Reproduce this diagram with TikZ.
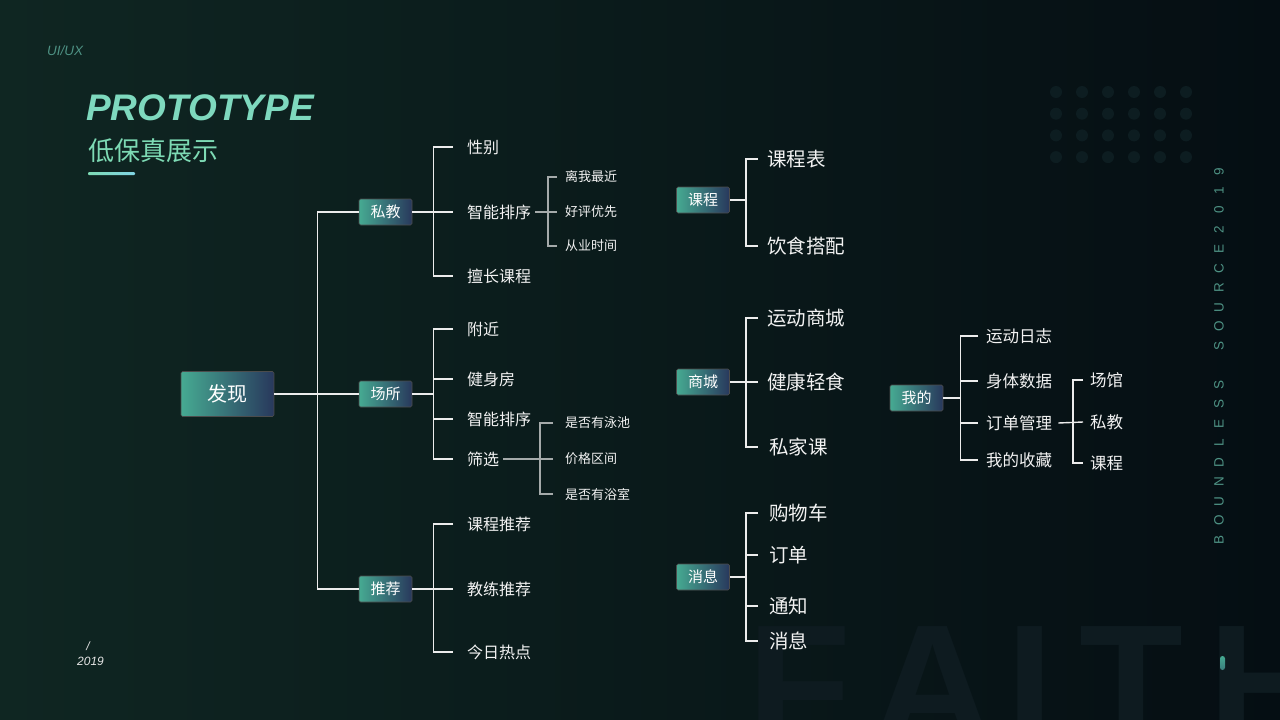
\documentclass[tikz,border=0pt]{standalone}
\usepackage{fontspec}
\setmainfont{Liberation Sans}
\newfontfamily\cjk{Noto Sans CJK SC}

\definecolor{bgleft}{RGB}{15,38,34}
\definecolor{bgright}{RGB}{5,14,19}
\definecolor{boxteal}{RGB}{70,170,146}
\definecolor{boxnavy}{RGB}{40,56,92}
\definecolor{mint}{RGB}{125,218,180}
\definecolor{sky}{RGB}{128,212,228}
\definecolor{dotgray}{RGB}{13,29,33}
\definecolor{faintgray}{RGB}{14,27,32}
\definecolor{sidetext}{RGB}{78,146,132}
\definecolor{linewhite}{RGB}{236,236,236}
\definecolor{subgray}{RGB}{165,170,170}
\definecolor{leaftext}{RGB}{242,242,242}

\tikzset{
  box/.style={left color=boxteal, right color=boxnavy, draw=black!70, line width=0.6pt,
    rounded corners=1.5pt, text=white, font=\cjk\fontsize{15}{15}\selectfont,
    minimum width=53pt, minimum height=26pt, inner sep=0pt},
  rootbox/.style={box, minimum width=93pt, minimum height=45pt, font=\cjk\fontsize{20}{20}\selectfont},
  leaf/.style={anchor=west, inner sep=0pt, text=leaftext, font=\cjk\fontsize{16}{16}\selectfont},
  smallleaf/.style={leaf, font=\cjk\fontsize{13}{13}\selectfont},
  bigleaf/.style={leaf, font=\cjk\fontsize{19.5}{19.5}\selectfont},
  branch/.style={draw=linewhite, line width=1.4pt},
  subbranch/.style={draw=subgray, line width=1.2pt},
}

\begin{document}
\begin{tikzpicture}[x=1pt,y=-1pt]

    % Canvas
    \useasboundingbox (0,0) rectangle (1280,720);
    \clip (0,0) rectangle (1280,720);
    \shade[left color=bgleft, right color=bgright] (0,0) rectangle (1280,720);

    % Dot grid
    \foreach \col in {0,...,5}
      \foreach \row in {0,...,3}
        \fill[dotgray] (1056+26*\col, 92+21.7*\row) circle (6);

    % Watermark
    \foreach \ch/\px in {F/747, A/871, I/1006, T/1079, H/1208}
      \node[anchor=base west, inner sep=0pt, text=faintgray,
        font=\fontsize{170}{170}\selectfont\bfseries] at (\px,743) {\ch};

    % Heading
    \node[anchor=west, inner sep=0pt, text=sidetext, font=\fontsize{13.5}{13.5}\selectfont\itshape] (uiux) at (47,51) {UI/UX};
    \node[anchor=west, inner sep=0pt, text=mint!80!sky, font=\fontsize{37}{37}\selectfont\bfseries\itshape] (proto) at (86,108) {PROTOTYPE};
    \node[anchor=west, inner sep=0pt, text=mint, font=\cjk\fontsize{26}{26}\selectfont] (subtitle) at (88,151) {低保真展示};
    \shade[left color=mint, right color=sky, rounded corners=1pt] (88,172) rectangle (135,175);

    % Year
    \node[inner sep=0pt, text=white!80!gray, font=\fontsize{12}{12}\selectfont\itshape] (slash) at (88,646) {/};
    \node[anchor=west, inner sep=0pt, text=white!80!gray, font=\fontsize{12}{12}\selectfont\itshape] (year) at (77,661) {2019};

    % Side caption
    \foreach \ch/\i in {B/0,O/1,U/2,N/3,D/4,L/5,E/6,S/7,S/8,S/10,O/11,U/12,R/13,C/14,E/15,2/16,0/17,1/18,9/19}
      \node[rotate=90, inner sep=0pt, text=sidetext, font=\fontsize{13.5}{13.5}\selectfont] at (1219,540-19.4*\i) {\ch};
    \shade[top color=boxteal, bottom color=boxteal!60!boxnavy, rounded corners=2.5pt] (1220,656) rectangle (1225,670);

    %% Tree
    % Level one
    \node[rootbox] (faxian) at (227.5,394) {发现};
    \node[box] (sijiao) at (385.5,212) {私教};
    \node[box] (changsuo) at (385.5,394) {场所};
    \node[box] (tuijian) at (385.5,589) {推荐};

    \coordinate (roottrunk) at ([xshift=43pt]faxian.east);
    \draw[branch] (faxian.east) -- (changsuo.west);
    \draw[branch] (sijiao.west) -| (roottrunk) |- (tuijian.west);

    % Private coach
    \node[leaf] (xingbie) at (467,147) {性别};
    \node[leaf] (sjpx) at (467,212) {智能排序};
    \node[leaf] (scks) at (467,276) {擅长课程};
    \coordinate (sjtrunk) at ([xshift=21pt]sijiao.east);
    \draw[branch] (sijiao.east) -- ([xshift=-14pt]sjpx.west);
    \draw[branch] ([xshift=-14pt]xingbie.west) -| (sjtrunk) |- ([xshift=-14pt]scks.west);

    \node[smallleaf] (lwzj) at (565,177) {离我最近};
    \node[smallleaf] (hpyx) at (565,212) {好评优先};
    \node[smallleaf] (cysj) at (565,246) {从业时间};
    \coordinate (sjpxtrunk) at ([xshift=-17pt]hpyx.west);
    \draw[subbranch] ([xshift=4pt]sjpx.east) -- ([xshift=-8pt]hpyx.west);
    \draw[subbranch] ([xshift=-8pt]lwzj.west) -| (sjpxtrunk) |- ([xshift=-8pt]cysj.west);

    % Venues
    \node[leaf] (fujin) at (467,329) {附近};
    \node[leaf] (jsf) at (467,379) {健身房};
    \node[leaf] (cspx) at (467,419) {智能排序};
    \node[leaf] (shaixuan) at (467,459) {筛选};
    \coordinate (cstrunk) at ([xshift=21pt]changsuo.east);
    \draw[branch] (changsuo.east) -- (cstrunk);
    \draw[branch] ([xshift=-14pt]fujin.west) -| (cstrunk) |- ([xshift=-14pt]shaixuan.west);
    \draw[branch] (cstrunk |- jsf.west) -- ([xshift=-14pt]jsf.west);
    \draw[branch] (cstrunk |- cspx.west) -- ([xshift=-14pt]cspx.west);

    \node[smallleaf] (youyongchi) at (565,423) {是否有泳池};
    \node[smallleaf] (jgqj) at (565,459) {价格区间};
    \node[smallleaf] (youyushi) at (565,494) {是否有浴室};
    \coordinate (sxtrunk) at ([xshift=-25pt]jgqj.west);
    \draw[subbranch] ([xshift=4pt]shaixuan.east) -- ([xshift=-12pt]jgqj.west);
    \draw[subbranch] ([xshift=-12pt]youyongchi.west) -| (sxtrunk) |- ([xshift=-12pt]youyushi.west);

    % Recommend
    \node[leaf] (kctj) at (467,524) {课程推荐};
    \node[leaf] (jltj) at (467,589) {教练推荐};
    \node[leaf] (jrrd) at (467,652) {今日热点};
    \coordinate (tjtrunk) at ([xshift=21pt]tuijian.east);
    \draw[branch] (tuijian.east) -- ([xshift=-14pt]jltj.west);
    \draw[branch] ([xshift=-14pt]kctj.west) -| (tjtrunk) |- ([xshift=-14pt]jrrd.west);

    % Middle column
    \node[box] (kecheng) at (703,200) {课程};
    \node[box] (shangcheng) at (703,382) {商城};
    \node[box] (xiaoxi) at (703,577) {消息};

    \node[bigleaf] (kcb) at (767,159) {课程表};
    \node[bigleaf] (ysdp) at (767,246) {饮食搭配};
    \coordinate (kctrunk) at ([xshift=16pt]kecheng.east);
    \draw[branch] (kecheng.east) -- (kctrunk);
    \draw[branch] ([xshift=-9pt]kcb.west) -| (kctrunk) |- ([xshift=-9pt]ysdp.west);

    \node[bigleaf] (ydsc) at (767,318) {运动商城};
    \node[bigleaf] (jkqs) at (767,382) {健康轻食};
    \node[bigleaf] (sjk) at (769,447) {私家课};
    \coordinate (sctrunk) at ([xshift=16pt]shangcheng.east);
    \draw[branch] (shangcheng.east) -- ([xshift=-9pt]jkqs.west);
    \draw[branch] ([xshift=-9pt]ydsc.west) -| (sctrunk) |- ([xshift=-11pt]sjk.west);

    \node[bigleaf] (gwc) at (769,513) {购物车};
    \node[bigleaf] (dingdan) at (769,555) {订单};
    \node[bigleaf] (tongzhi) at (769,606) {通知};
    \node[bigleaf] (xiaoxileaf) at (769,641) {消息};
    \coordinate (xxtrunk) at ([xshift=16pt]xiaoxi.east);
    \draw[branch] (xiaoxi.east) -- (xxtrunk);
    \draw[branch] ([xshift=-11pt]gwc.west) -| (xxtrunk) |- ([xshift=-11pt]xiaoxileaf.west);
    \draw[branch] (xxtrunk |- dingdan.west) -- ([xshift=-11pt]dingdan.west);
    \draw[branch] (xxtrunk |- tongzhi.west) -- ([xshift=-11pt]tongzhi.west);

    % Mine
    \node[box] (wode) at (916.5,398) {我的};
    \node[leaf, font=\cjk\fontsize{16.5}{16.5}\selectfont] (ydrz) at (986,336) {运动日志};
    \node[leaf, font=\cjk\fontsize{16.5}{16.5}\selectfont] (stsj) at (986,381) {身体数据};
    \node[leaf, font=\cjk\fontsize{16.5}{16.5}\selectfont] (ddgl) at (986,423) {订单管理};
    \node[leaf, font=\cjk\fontsize{16.5}{16.5}\selectfont] (wdsc) at (986,460) {我的收藏};
    \coordinate (wdtrunk) at ([xshift=17pt]wode.east);
    \draw[branch] (wode.east) -- (wdtrunk);
    \draw[branch] ([xshift=-8pt]ydrz.west) -| (wdtrunk) |- ([xshift=-8pt]wdsc.west);
    \draw[branch] (wdtrunk |- stsj.west) -- ([xshift=-8pt]stsj.west);
    \draw[branch] (wdtrunk |- ddgl.west) -- ([xshift=-8pt]ddgl.west);

    \node[leaf, font=\cjk\fontsize{16.5}{16.5}\selectfont] (changguan) at (1090,380) {场馆};
    \node[leaf, font=\cjk\fontsize{16.5}{16.5}\selectfont] (wdsijiao) at (1090,422) {私教};
    \node[leaf, font=\cjk\fontsize{16.5}{16.5}\selectfont] (wdkecheng) at (1090,463) {课程};
    \coordinate (ddtrunk) at ([xshift=-17pt]wdsijiao.west);
    \draw[branch] ([xshift=6pt]ddgl.east) -- ([xshift=-7pt]wdsijiao.west);
    \draw[branch] ([xshift=-7pt]changguan.west) -| (ddtrunk) |- ([xshift=-7pt]wdkecheng.west);
  \end{tikzpicture}
\end{document}
